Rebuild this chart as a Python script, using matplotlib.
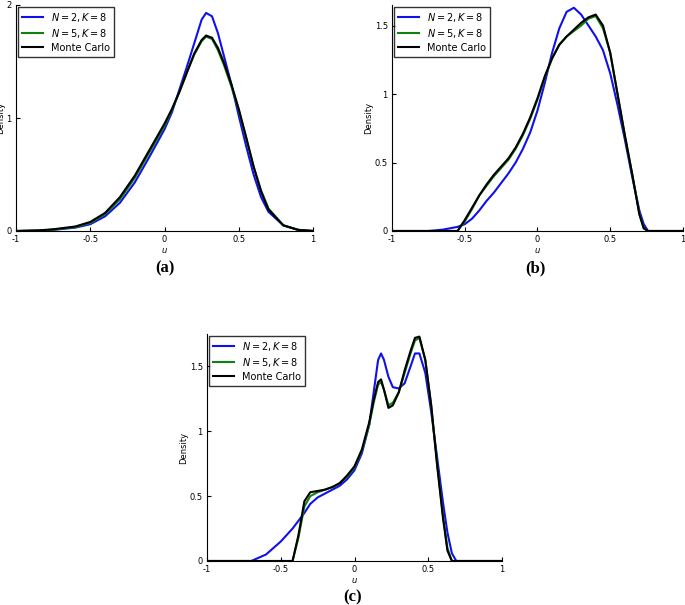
import matplotlib
matplotlib.use("Agg")
import matplotlib.pyplot as plt
from matplotlib.ticker import FuncFormatter

# Panel (a)
a_u = [-1, -0.85, -0.75, -0.6, -0.5, -0.4, -0.3, -0.2, -0.1, 0, 0.05, 0.1, 0.15, 0.2, 0.25, 0.28, 0.32, 0.36, 0.4, 0.45, 0.5, 0.55, 0.6, 0.65, 0.7, 0.8, 0.9, 1]
a_blue = [0, 0.003, 0.01, 0.03, 0.06, 0.13, 0.25, 0.43, 0.66, 0.9, 1.05, 1.25, 1.45, 1.66, 1.87, 1.93, 1.9, 1.75, 1.55, 1.3, 1.02, 0.75, 0.5, 0.3, 0.17, 0.05, 0.01, 0]
a_green = [0, 0.004, 0.012, 0.035, 0.07, 0.15, 0.28, 0.47, 0.7, 0.93, 1.07, 1.23, 1.4, 1.56, 1.68, 1.72, 1.7, 1.6, 1.47, 1.28, 1.07, 0.82, 0.57, 0.36, 0.2, 0.05, 0.01, 0]
a_black = [0, 0.005, 0.015, 0.04, 0.08, 0.16, 0.3, 0.49, 0.72, 0.95, 1.08, 1.23, 1.4, 1.57, 1.69, 1.73, 1.71, 1.62, 1.49, 1.3, 1.08, 0.83, 0.57, 0.35, 0.19, 0.05, 0.01, 0]

# Panel (b)
b_u = [-1, -0.75, -0.65, -0.55, -0.5, -0.45, -0.4, -0.35, -0.3, -0.25, -0.2, -0.15, -0.1, -0.05, 0, 0.05, 0.1, 0.15, 0.2, 0.25, 0.3, 0.35, 0.4, 0.45, 0.5, 0.55, 0.6, 0.65, 0.7, 0.73, 0.76, 1]
b_blue = [0, 0, 0.01, 0.03, 0.05, 0.09, 0.15, 0.22, 0.28, 0.35, 0.42, 0.5, 0.6, 0.72, 0.88, 1.08, 1.3, 1.48, 1.6, 1.63, 1.58, 1.5, 1.42, 1.32, 1.15, 0.92, 0.67, 0.4, 0.15, 0.05, 0, 0]
b_green = [0, 0, 0, 0, 0.07, 0.16, 0.26, 0.33, 0.4, 0.46, 0.52, 0.6, 0.7, 0.82, 0.96, 1.12, 1.26, 1.36, 1.42, 1.46, 1.5, 1.55, 1.57, 1.48, 1.3, 1.0, 0.7, 0.42, 0.13, 0.02, 0, 0]
b_black = [0, 0, 0, 0, 0.08, 0.17, 0.26, 0.34, 0.41, 0.47, 0.53, 0.61, 0.71, 0.83, 0.97, 1.13, 1.26, 1.36, 1.42, 1.47, 1.52, 1.56, 1.58, 1.5, 1.3, 1.0, 0.7, 0.42, 0.12, 0.02, 0, 0]

# Panel (c)
c_u = [-1, -0.7, -0.6, -0.5, -0.42, -0.38, -0.34, -0.3, -0.25, -0.2, -0.15, -0.1, -0.05, 0, 0.05, 0.1, 0.13, 0.16, 0.18, 0.2, 0.23, 0.26, 0.3, 0.34, 0.38, 0.41, 0.44, 0.48, 0.52, 0.56, 0.6, 0.63, 0.66, 0.69, 1]
c_blue = [0, 0, 0.05, 0.15, 0.25, 0.31, 0.37, 0.44, 0.49, 0.52, 0.55, 0.58, 0.63, 0.7, 0.83, 1.05, 1.3, 1.55, 1.6, 1.55, 1.42, 1.34, 1.33, 1.37, 1.5, 1.6, 1.6, 1.45, 1.15, 0.8, 0.45, 0.22, 0.06, 0, 0]
c_green = [0, 0, 0, 0, 0, 0.18, 0.42, 0.5, 0.53, 0.55, 0.57, 0.6, 0.65, 0.72, 0.85, 1.05, 1.22, 1.36, 1.38, 1.32, 1.2, 1.22, 1.3, 1.45, 1.6, 1.7, 1.72, 1.55, 1.2, 0.75, 0.35, 0.1, 0, 0, 0]
c_black = [0, 0, 0, 0, 0, 0.2, 0.46, 0.53, 0.54, 0.55, 0.57, 0.6, 0.66, 0.73, 0.86, 1.07, 1.24, 1.38, 1.4, 1.32, 1.18, 1.2, 1.3, 1.47, 1.62, 1.72, 1.73, 1.55, 1.2, 0.74, 0.33, 0.08, 0, 0, 0]

labels = [r"$N=2, K=8$", r"$N=5, K=8$", "Monte Carlo"]
fmt = FuncFormatter(lambda v, p: "%g" % v)

fig = plt.figure(figsize=(6.85, 6.05), dpi=100)
W, H = 685, 605
def mk(x0, x1, ytop, ybot):
    return fig.add_axes([x0 / W, 1 - ybot / H, (x1 - x0) / W, (ybot - ytop) / H])

panels = [
    (mk(16, 313, 5, 231), a_u, a_blue, a_green, a_black, 2.0, [0, 1, 2], "(a)", (165, 268)),
    (mk(392, 683, 5, 231), b_u, b_blue, b_green, b_black, 1.65, [0, 0.5, 1, 1.5], "(b)", (535, 268)),
    (mk(207, 502, 334, 561), c_u, c_blue, c_green, c_black, 1.75, [0, 0.5, 1, 1.5], "(c)", (353, 597)),
]
for ax, u, yb, yg, yk, ymax, yt, lab, (lx, ly) in panels:
    ax.plot(u, yb, color="#1010ee", lw=1.5, label=labels[0])
    ax.plot(u, yg, color="#108010", lw=1.5, label=labels[1])
    ax.plot(u, yk, color="black", lw=1.5, label=labels[2])
    ax.set_xlim(-1, 1)
    ax.set_ylim(0, ymax)
    ax.set_xticks([-1, -0.5, 0, 0.5, 1])
    ax.set_yticks(yt)
    ax.xaxis.set_major_formatter(fmt)
    ax.yaxis.set_major_formatter(fmt)
    for s in ["top", "right"]:
        ax.spines[s].set_visible(False)
    ax.tick_params(direction="in", labelsize=6, length=3, pad=3)
    ax.set_xlabel(r"$u$", fontsize=6, labelpad=1)
    ax.set_ylabel("Density", fontsize=6, labelpad=1)
    ax.legend(loc="upper left", fontsize=7, frameon=True, fancybox=False,
              edgecolor="black", handlelength=2.2, borderaxespad=0.2,
              labelspacing=0.3)
    fig.text(lx / W, 1 - ly / H, lab, ha="center", va="center",
             fontsize=12, fontweight="bold", family="Liberation Serif")

fig.savefig("out.png", dpi=100)
